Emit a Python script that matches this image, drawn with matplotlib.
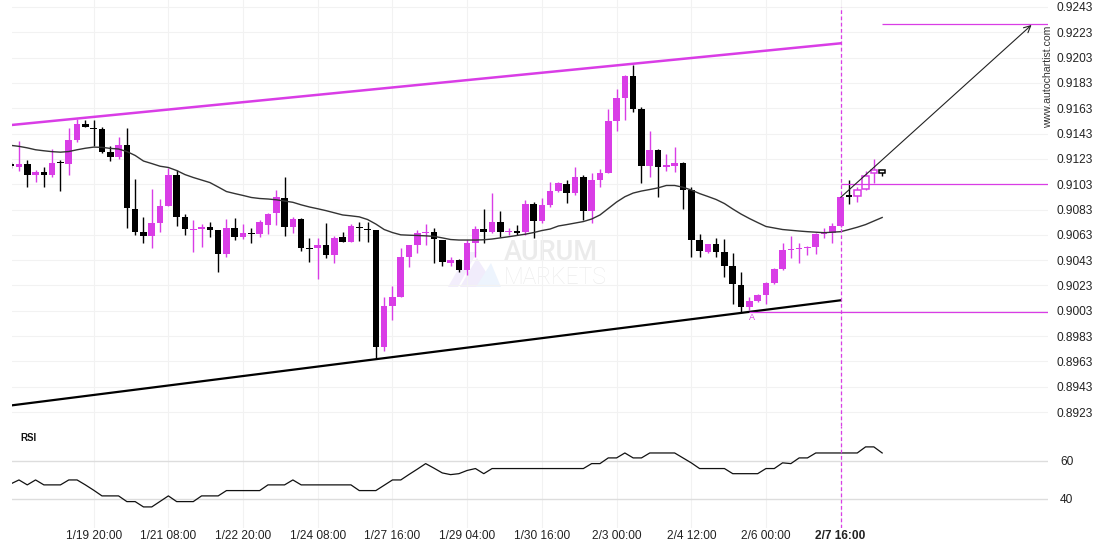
"""
Price chart with channel lines, breakout target and RSI pane
============================================================
Static re-draw of a 4-hour candlestick screenshot: candles, a moving
average, resistance / support trend lines, three horizontal levels, a
projected target arrow and an RSI sub-panel.
"""

import matplotlib
matplotlib.use("Agg")
import matplotlib.pyplot as plt
from matplotlib.patches import Polygon

plt.rcParams["font.family"] = ["Liberation Sans", "DejaVu Sans"]

W, H = 1110, 550
MAGENTA = "#d93de6"

# ── candles (one per 4h bar, index 0..105) ─────────────────────────────
opens = [
    0.91193, 0.91168, 0.91189, 0.91105, 0.91129, 0.91105, 0.91203, 0.91192, 0.91379, 0.91505,
    0.91476, 0.91466, 0.91284, 0.91247, 0.91340, 0.90834, 0.90652, 0.90623, 0.90726, 0.90858,
    0.91103, 0.90768, 0.90672, 0.90676, 0.90692, 0.90668, 0.90481, 0.90684, 0.90615, 0.90642,
    0.90639, 0.90710, 0.90805, 0.90918, 0.90694, 0.90755, 0.90526, 0.90523, 0.90550, 0.90471,
    0.90610, 0.90576, 0.90689, 0.90676, 0.90668, 0.89746, 0.90070, 0.90141, 0.90457, 0.90550,
    0.90647, 0.90650, 0.90589, 0.90405, 0.90431, 0.90352, 0.90563, 0.90676, 0.90655, 0.90734,
    0.90650, 0.90663, 0.90652, 0.90871, 0.90742, 0.90866, 0.90976, 0.91029, 0.90963, 0.91084,
    0.90821, 0.91063, 0.91121, 0.91529, 0.91713, 0.91885, 0.91624, 0.91174, 0.91300, 0.91171,
    0.91174, 0.91200, 0.90984, 0.90589, 0.90497, 0.90557, 0.90492, 0.90384, 0.90234, 0.90062,
    0.90107, 0.90155, 0.90247, 0.90358, 0.90512, 0.90520, 0.90526, 0.90531, 0.90634, 0.90642,
    0.90700, 0.90939, 0.90937, 0.90990, 0.91116, 0.91142,
]
highs = [
    0.91205, 0.91371, 0.91221, 0.91142, 0.91168, 0.91308, 0.91221, 0.91474, 0.91545, 0.91537,
    0.91537, 0.91482, 0.91332, 0.91403, 0.91474, 0.91071, 0.90773, 0.90992, 0.90913, 0.91158,
    0.91142, 0.90794, 0.90747, 0.90715, 0.90734, 0.90672, 0.90755, 0.90763, 0.90715, 0.90681,
    0.90747, 0.90800, 0.90984, 0.91089, 0.90773, 0.90765, 0.90602, 0.90602, 0.90721, 0.90621,
    0.90650, 0.90715, 0.90734, 0.90734, 0.90672, 0.90141, 0.90228, 0.90523, 0.90553, 0.90668,
    0.90713, 0.90681, 0.90593, 0.90452, 0.90439, 0.90589, 0.90702, 0.90832, 0.90958, 0.90821,
    0.90681, 0.90708, 0.90905, 0.90892, 0.90918, 0.91050, 0.91050, 0.91063, 0.91163, 0.91103,
    0.91116, 0.91148, 0.91622, 0.91780, 0.91889, 0.91972, 0.91642, 0.91450, 0.91306, 0.91266,
    0.91326, 0.91204, 0.91010, 0.90634, 0.90561, 0.90602, 0.90597, 0.90484, 0.90339, 0.90141,
    0.90162, 0.90260, 0.90370, 0.90563, 0.90621, 0.90563, 0.90542, 0.90642, 0.90681, 0.90721,
    0.90933, 0.91063, 0.91010, 0.91137, 0.91229, 0.91142,
]
lows = [
    0.91158, 0.91134, 0.91008, 0.91047, 0.91008, 0.91089, 0.90976, 0.91103, 0.91363, 0.91478,
    0.91332, 0.91279, 0.91216, 0.91231, 0.90684, 0.90629, 0.90565, 0.90526, 0.90655, 0.90854,
    0.90702, 0.90629, 0.90492, 0.90536, 0.90615, 0.90334, 0.90457, 0.90589, 0.90595, 0.90568,
    0.90615, 0.90634, 0.90710, 0.90621, 0.90647, 0.90502, 0.90413, 0.90279, 0.90444, 0.90405,
    0.90573, 0.90573, 0.90581, 0.90576, 0.89649, 0.89715, 0.89957, 0.90139, 0.90373, 0.90484,
    0.90550, 0.90410, 0.90386, 0.90386, 0.90339, 0.90313, 0.90457, 0.90568, 0.90642, 0.90610,
    0.90629, 0.90629, 0.90629, 0.90602, 0.90721, 0.90852, 0.90966, 0.90879, 0.90945, 0.90747,
    0.90721, 0.91010, 0.91116, 0.91450, 0.91537, 0.91603, 0.91037, 0.91089, 0.90931, 0.91134,
    0.91124, 0.90834, 0.90457, 0.90457, 0.90484, 0.90457, 0.90294, 0.90081, 0.90018, 0.90036,
    0.90102, 0.90081, 0.90243, 0.90354, 0.90444, 0.90405, 0.90471, 0.90478, 0.90602, 0.90563,
    0.90692, 0.90873, 0.90892, 0.90984, 0.91042, 0.91095,
]
closes = [
    0.91170, 0.91189, 0.91105, 0.91129, 0.91105, 0.91197, 0.91197, 0.91379, 0.91505, 0.91484,
    0.91468, 0.91287, 0.91247, 0.91340, 0.90839, 0.90655, 0.90623, 0.90723, 0.90858, 0.91103,
    0.90773, 0.90674, 0.90678, 0.90692, 0.90670, 0.90481, 0.90684, 0.90615, 0.90642, 0.90638,
    0.90731, 0.90794, 0.90926, 0.90694, 0.90755, 0.90528, 0.90521, 0.90550, 0.90471, 0.90607,
    0.90576, 0.90700, 0.90684, 0.90671, 0.89746, 0.90068, 0.90141, 0.90455, 0.90550, 0.90642,
    0.90652, 0.90595, 0.90413, 0.90431, 0.90352, 0.90568, 0.90676, 0.90655, 0.90734, 0.90650,
    0.90663, 0.90647, 0.90873, 0.90742, 0.90866, 0.90976, 0.91042, 0.90963, 0.91084, 0.90821,
    0.91061, 0.91116, 0.91529, 0.91708, 0.91885, 0.91624, 0.91174, 0.91300, 0.91168, 0.91176,
    0.91200, 0.90984, 0.90589, 0.90505, 0.90557, 0.90497, 0.90386, 0.90239, 0.90062, 0.90107,
    0.90155, 0.90247, 0.90358, 0.90510, 0.90518, 0.90526, 0.90531, 0.90634, 0.90642, 0.90700,
    0.90926, 0.90934, 0.90984, 0.91097, 0.91142, 0.91116,
]
# moving average drawn over the candles
ma_values = [
    0.91337, 0.91329, 0.91317, 0.91302, 0.91294, 0.91287, 0.91283, 0.91288, 0.91302, 0.91314,
    0.91323, 0.91321, 0.91313, 0.91308, 0.91288, 0.91257, 0.91213, 0.91193, 0.91172, 0.91162,
    0.91138, 0.91106, 0.91083, 0.91063, 0.91043, 0.91008, 0.90972, 0.90956, 0.90941, 0.90925,
    0.90917, 0.90913, 0.90907, 0.90897, 0.90887, 0.90867, 0.90850, 0.90836, 0.90821, 0.90804,
    0.90787, 0.90780, 0.90772, 0.90751, 0.90715, 0.90672, 0.90648, 0.90630, 0.90627, 0.90625,
    0.90622, 0.90618, 0.90606, 0.90593, 0.90589, 0.90589, 0.90589, 0.90591, 0.90597, 0.90606,
    0.90615, 0.90625, 0.90635, 0.90648, 0.90664, 0.90676, 0.90700, 0.90711, 0.90723, 0.90735,
    0.90755, 0.90787, 0.90838, 0.90889, 0.90931, 0.90960, 0.90976, 0.90988, 0.91001, 0.91020,
    0.91020, 0.91006, 0.90984, 0.90956, 0.90933, 0.90909, 0.90877, 0.90834, 0.90794, 0.90759,
    0.90727, 0.90696, 0.90684, 0.90672, 0.90666, 0.90660, 0.90655, 0.90651, 0.90647, 0.90651,
    0.90655, 0.90672, 0.90690, 0.90711, 0.90739, 0.90767,
]
rsi_values = [
    47.9, 50.0, 47.4, 50.0, 47.4, 47.4, 47.4, 50.0, 50.0, 47.4,
    44.6, 41.6, 41.6, 41.6, 38.6, 38.6, 35.8, 35.8, 38.7, 41.6,
    38.6, 38.6, 38.6, 41.6, 41.6, 41.6, 44.4, 44.4, 44.4, 44.4,
    44.4, 47.4, 47.4, 47.4, 50.0, 47.4, 47.4, 47.4, 47.4, 47.4,
    47.4, 47.4, 44.4, 44.4, 44.4, 47.2, 50.0, 50.0, 52.9, 55.7,
    58.6, 56.2, 53.7, 52.8, 53.3, 55.0, 56.0, 53.3, 56.0, 56.0,
    56.0, 56.0, 56.0, 56.0, 56.0, 56.0, 56.0, 56.0, 56.0, 56.0,
    58.6, 58.6, 61.6, 61.6, 64.2, 61.6, 61.6, 64.2, 64.2, 64.2,
    64.2, 61.6, 59.0, 56.0, 56.0, 56.0, 56.0, 53.3, 53.3, 53.3,
    53.3, 56.0, 56.0, 59.0, 58.6, 61.6, 61.6, 64.2, 64.2, 64.2,
    64.2, 64.2, 64.2, 67.4, 67.4, 64.2,
]

date_ticks = [10, 19, 28, 37, 46, 55, 64, 73, 82, 91, 100]
date_labels = ["1/19 20:00", "1/21 08:00", "1/22 20:00", "1/24 08:00", "1/27 16:00",
               "1/29 04:00", "1/30 16:00", "2/3 00:00", "2/4 12:00", "2/6 00:00", "2/7 16:00"]
price_ticks = [0.8923 + 0.002 * i for i in range(17)]
rsi_ticks = [40, 60]

# pattern geometry (bar index, price)
resistance_x, resistance_y = [0, 100], [0.91497, 0.92143]
support_x, support_y = [0, 100], [0.89282, 0.90113]
level_a, level_a_start = 0.90020, 89
level_mid, level_mid_start = 0.91031, 100
target, target_start = 0.92293, 105
arrow_start = (100, 0.90926)
arrow_end = (123.0, 0.92288)
signal_bar = 100
first_hollow = 102

X_LIM = (0.16, 124.98)
PRICE_LIM = (0.89120, 0.92485)
RSI_LIM = (24.7, 78.4)


def px_axes(fig, left, top, right, bottom):
    return fig.add_axes([left / W, 1 - bottom / H, (right - left) / W, (bottom - top) / H])


def style_axes(ax):
    for s in ax.spines.values():
        s.set_visible(False)
    ax.set_xlim(*X_LIM)
    ax.set_xticks(date_ticks)
    ax.tick_params(length=0, labelsize=8.6, colors="#222222")
    ax.yaxis.tick_right()


def draw_candles(ax):
    min_h = 0.0001
    for i, (o, h, l, c) in enumerate(zip(opens, highs, lows, closes)):
        col = MAGENTA if c >= o else "black"
        ax.vlines(i, l, h, color=col, lw=1.0, zorder=3)
        height = max(abs(c - o), min_h)
        bottom = min(o, c) if abs(c - o) >= min_h else (o + c) / 2 - min_h / 2
        if i >= first_hollow:
            ax.bar(i, height, bottom=bottom, width=0.78, facecolor="white",
                   edgecolor=col, linewidth=1.1, zorder=4)
        else:
            ax.bar(i, height, bottom=bottom, width=0.8, color=col, linewidth=0, zorder=4)


def draw_watermark(ax):
    def ax_xy(px, py):
        return ((px - 12) / 1036, (426 - py) / 426)

    shapes = [
        ([(448, 287), (468, 252), (477, 252), (458, 287)], "#f3eefc"),
        ([(460, 287), (477, 258), (486, 272), (477, 287)], "#f1ecfb"),
        ([(476, 287), (491, 263), (501, 287)], "#edf4fd"),
    ]
    for pts, col in shapes:
        ax.add_patch(Polygon([ax_xy(*p) for p in pts], closed=True, facecolor=col,
                             edgecolor="none", transform=ax.transAxes, zorder=0))
    ax.text(*ax_xy(504, 253), "AURUM", transform=ax.transAxes, family="Roboto",
            fontweight="medium", fontsize=19.5, color="#ebebeb", va="center", zorder=0)
    ax.text(*ax_xy(504, 277), "MARKETS", transform=ax.transAxes, family="Roboto",
            fontweight="light", fontsize=16.5, color="#ececec", va="center", zorder=0)


def main():
    fig = plt.figure(figsize=(W / 100, H / 100), dpi=100)

    # ── price panel ──────────────────────────────────────────────────
    ax = px_axes(fig, 12, 0, 1048, 426)
    style_axes(ax)
    ax.set_ylim(*PRICE_LIM)
    ax.set_yticks(price_ticks)
    ax.set_yticklabels([f"{v:.4f}" for v in price_ticks])
    ax.tick_params(axis="y", pad=6.3)
    ax.tick_params(axis="x", labelbottom=False)
    ax.grid(True, color="#f2f2f2", lw=0.8, zorder=0)
    ax.set_axisbelow(True)

    draw_watermark(ax)
    draw_candles(ax)
    ax.plot(range(len(ma_values)), ma_values, color="#333333", lw=1.0, zorder=5)

    ax.plot(resistance_x, resistance_y, color=MAGENTA, lw=1.8, zorder=6)
    ax.plot(support_x, support_y, color="black", lw=1.6, zorder=6)

    right = X_LIM[1]
    ax.hlines(level_a, level_a_start, right, color=MAGENTA, lw=0.9, zorder=6)
    ax.hlines(level_mid, level_mid_start, right, color=MAGENTA, lw=0.9, zorder=6)
    ax.hlines(target, target_start, right, color=MAGENTA, lw=0.9, zorder=6)
    ax.text(89.3, level_a - 0.00042, "A", color=MAGENTA, fontsize=6.5,
            ha="center", va="center", zorder=6)

    ax.axvline(signal_bar, ymax=1 - 6.7 / 426, color=MAGENTA, lw=0.9,
               ls=(0, (3, 2)), zorder=7)
    ax.annotate("", xy=arrow_end, xytext=arrow_start,
                arrowprops=dict(arrowstyle="->", color="#222222", lw=0.8,
                                mutation_scale=12, shrinkA=0, shrinkB=0), zorder=7)

    fig.text(1048.5 / W, 1 - 76.7 / H, "www.autochartist.com", rotation=90,
             fontsize=7.6, color="#333333", ha="center", va="center")

    # ── RSI panel ────────────────────────────────────────────────────
    rsi = px_axes(fig, 12, 426, 1048, 528)
    style_axes(rsi)
    rsi.set_ylim(*RSI_LIM)
    rsi.set_yticks(rsi_ticks)
    rsi.tick_params(axis="y", pad=8.6)
    rsi.tick_params(axis="x", pad=1.5)
    rsi.set_xticklabels(date_labels)
    rsi.get_xticklabels()[-1].set_fontweight("bold")
    rsi.grid(True, axis="x", color="#f2f2f2", lw=0.8)
    rsi.grid(True, axis="y", color="#dddddd", lw=1.0)
    rsi.set_axisbelow(True)
    rsi.plot(range(len(rsi_values)), rsi_values, color="#111111", lw=0.9, zorder=3)
    rsi.axvline(signal_bar, color=MAGENTA, lw=0.9, ls=(0, (3, 2)), zorder=4)
    fig.text(20 / W, 1 - 438 / H, "RSI", fontsize=7, fontweight="bold",
             color="#111111", va="center")

    fig.savefig("out.png", dpi=100)
    plt.close(fig)


if __name__ == "__main__":
    main()
